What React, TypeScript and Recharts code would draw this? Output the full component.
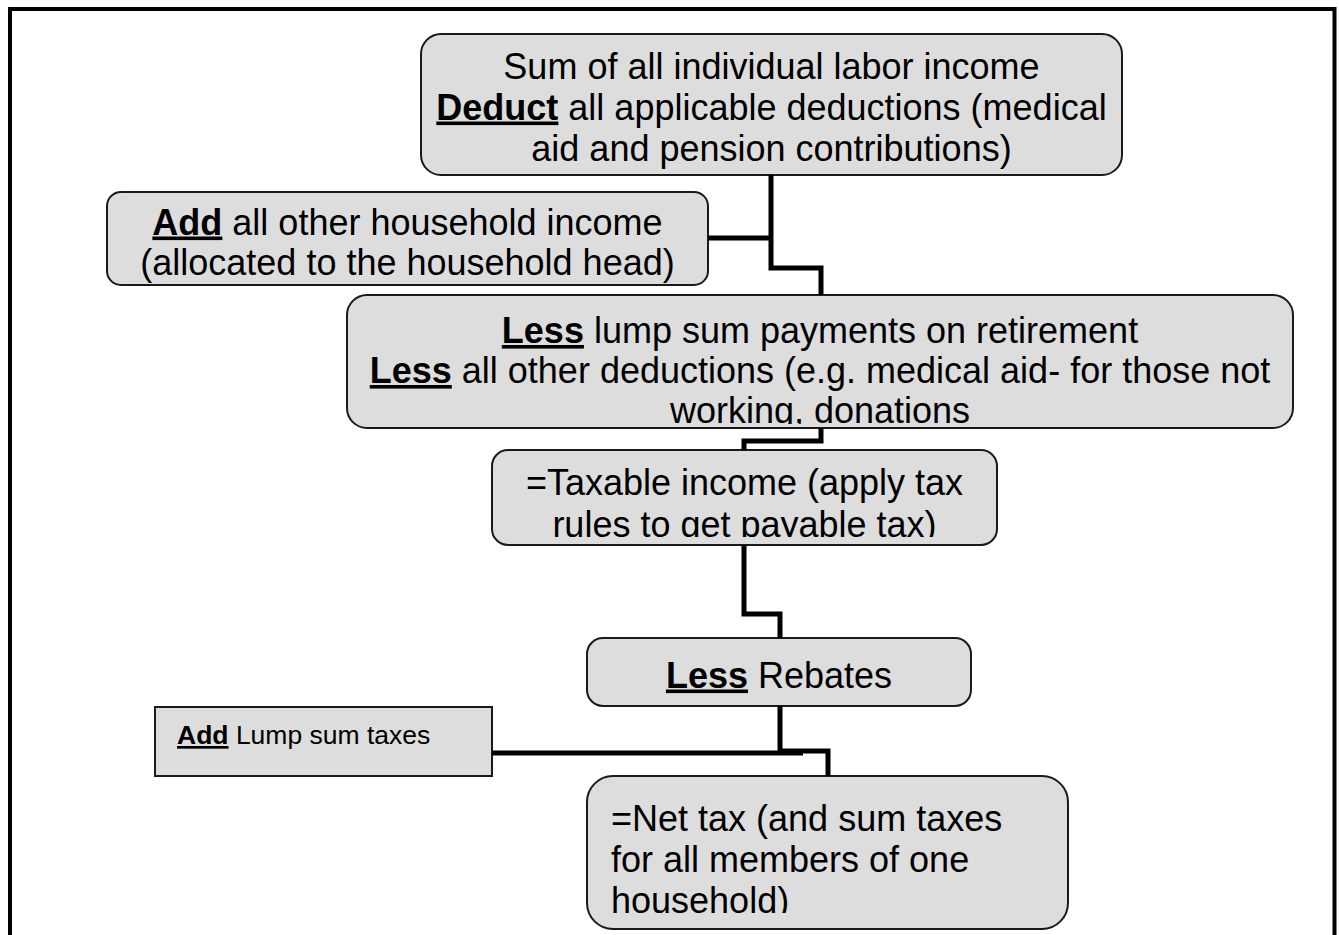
import React from 'react';
import { ComposedChart, XAxis, YAxis, Scatter, ReferenceArea } from 'recharts';

const W = 1339;
const H = 935;

// ---- text content of each step (bold+underlined words are wrapped in **) ----
const laborLines = [
  'Sum of all individual labor income',
  '**Deduct** all applicable deductions (medical',
  'aid and pension contributions)',
];
const otherIncomeLines = ['**Add** all other household income', '(allocated to the household head)'];
const lessLines = [
  '**Less** lump sum payments on retirement',
  '**Less** all other deductions (e.g. medical aid- for those not',
  'working, donations',
];
const taxableLines = ['=Taxable income (apply tax', 'rules to get payable tax)'];
const rebateLines = ['**Less** Rebates'];
const lumpTaxLines = ['**Add** Lump sum taxes'];
const netTaxLines = ['=Net tax (and sum taxes', 'for all members of one', 'household)'];

// ---- flowchart layout (chart coordinates) ----
const boxes = [
  { id: 'labor', lines: laborLines, x1: 421, x2: 1122, y1: 34, y2: 175, r: 20, align: 'middle', base: 44.5, step: 41, size: 36, clip: 0 },
  { id: 'other', lines: otherIncomeLines, x1: 107, x2: 708, y1: 192, y2: 285, r: 14, align: 'middle', base: 42.5, step: 40.5, size: 36, clip: 0 },
  { id: 'less', lines: lessLines, x1: 347, x2: 1293, y1: 295, y2: 428, r: 20, align: 'middle', base: 48, step: 40, size: 36, clip: 129 },
  { id: 'taxable', lines: taxableLines, x1: 492, x2: 997, y1: 450, y2: 545, r: 16, align: 'middle', base: 45, step: 42, size: 36, clip: 87 },
  { id: 'rebates', lines: rebateLines, x1: 587, x2: 971, y1: 638, y2: 706, r: 16, align: 'middle', base: 49.5, step: 40, size: 36, clip: 0 },
  { id: 'lumptax', lines: lumpTaxLines, x1: 155, x2: 492, y1: 707, y2: 776, r: 0, align: 'start', pad: 22, base: 37, step: 30, size: 26.5, clip: 0 },
  { id: 'net', lines: netTaxLines, x1: 587, x2: 1068, y1: 776, y2: 929, r: 26, align: 'start', pad: 24, base: 54.5, step: 41, size: 36, clip: 137 },
];

const connectors = [
  [{ x: 771, y: 175 }, { x: 771, y: 268 }, { x: 821, y: 268 }, { x: 821, y: 295 }],
  [{ x: 708, y: 238 }, { x: 771, y: 238 }],
  [{ x: 821, y: 428 }, { x: 821, y: 441 }, { x: 744, y: 441 }, { x: 744, y: 450 }],
  [{ x: 744, y: 545 }, { x: 744, y: 614 }, { x: 780, y: 614 }, { x: 780, y: 638 }],
  [{ x: 780, y: 706 }, { x: 780, y: 753 }],
  [{ x: 492, y: 753 }, { x: 803, y: 753 }],
  [{ x: 780, y: 751 }, { x: 828, y: 751 }, { x: 828, y: 776 }],
];

const frame = [
  { x: 10, y: 935 },
  { x: 10, y: 9 },
  { x: 1334.5, y: 9 },
  { x: 1334.5, y: 935 },
];

const FONT = '"Liberation Sans", Arial, Helvetica, sans-serif';

function renderLine(line: string) {
  const parts = line.split(/(\*\*[^*]+\*\*)/).filter((p) => p.length > 0);
  return parts.map((p, i) => {
    if (p.startsWith('**')) {
      return (
        <tspan key={i} fontWeight={700} style={{ textDecoration: 'underline' }}>
          {p.slice(2, -2)}
        </tspan>
      );
    }
    return <tspan key={i}>{p}</tspan>;
  });
}

function BoxShape(props: any) {
  const { x, y, width, height, box } = props;
  const clipId = `clip-${box.id}`;
  const clipH = box.clip ? box.clip : height;
  const tx = box.align === 'middle' ? x + width / 2 : x + box.pad;
  return (
    <g>
      <defs>
        <clipPath id={clipId}>
          <rect x={x} y={y} width={width} height={clipH} />
        </clipPath>
      </defs>
      <rect
        x={x}
        y={y}
        width={width}
        height={height}
        rx={box.r}
        ry={box.r}
        fill="#dddddd"
        stroke="#1a1a1a"
        strokeWidth={2}
      />
      <g clipPath={`url(#${clipId})`}>
        {box.lines.map((line: string, i: number) => (
          <text
            key={i}
            x={tx}
            y={y + box.base + i * box.step}
            textAnchor={box.align}
            fontFamily={FONT}
            fontSize={box.size}
            fill="#000"
            style={{ whiteSpace: 'pre' }}
          >
            {renderLine(line)}
          </text>
        ))}
      </g>
    </g>
  );
}

const emptyShape = () => <g />;

export default function App() {
  return (
    <div style={{ position: 'absolute', left: 0, top: 0, width: W, height: H, background: '#fff' }}>
      <ComposedChart width={W} height={H} margin={{ top: 0, right: 0, bottom: 0, left: 0 }}>
        <XAxis type="number" dataKey="x" domain={[0, W]} allowDataOverflow hide />
        <YAxis type="number" dataKey="y" domain={[0, H]} allowDataOverflow reversed hide />
        <Scatter
          data={frame}
          line={{ stroke: '#000', strokeWidth: 4 }}
          lineType="joint"
          shape={emptyShape}
          isAnimationActive={false}
        />
        {connectors.map((c, i) => (
          <Scatter
            key={`c${i}`}
            data={c}
            line={{ stroke: '#000', strokeWidth: 5 }}
            lineType="joint"
            shape={emptyShape}
            isAnimationActive={false}
          />
        ))}
        {boxes.map((b) => (
          <ReferenceArea
            key={b.id}
            x1={b.x1}
            x2={b.x2}
            y1={b.y1}
            y2={b.y2}
            ifOverflow="visible"
            shape={(p: any) => <BoxShape {...p} box={b} />}
          />
        ))}
      </ComposedChart>
    </div>
  );
}
